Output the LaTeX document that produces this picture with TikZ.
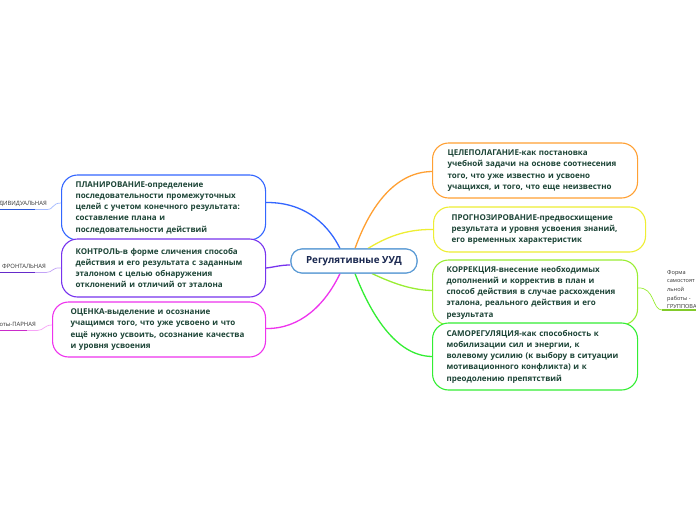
\documentclass[tikz,border=0pt]{standalone}
\usepackage{fontspec}
\setmainfont{Open Sans}
\usetikzlibrary{calc}
\definecolor{cblue}{HTML}{3366FF}
\definecolor{cpurple}{HTML}{7733EE}
\definecolor{cmagenta}{HTML}{EE33EE}
\definecolor{corange}{HTML}{FFA033}
\definecolor{cyellow}{HTML}{EEEE33}
\definecolor{cygreen}{HTML}{99EE33}
\definecolor{cgreen}{HTML}{33EE33}
\definecolor{ccentral}{HTML}{5B9BD5}
\definecolor{ctext}{HTML}{1C4436}
\definecolor{cnavy}{HTML}{1A2850}
\definecolor{cleaf}{HTML}{333333}
\tikzset{
  topic/.style={draw, line width=1.1pt, rounded corners=16pt, fill=white,
    align=left, inner ysep=0pt, anchor=west, text=ctext,
    font=\fontsize{8}{11.2}\selectfont\bfseries},
  central/.style={draw=ccentral, line width=1.1pt, rounded corners=11pt, fill=white,
    minimum width=126pt, minimum height=24pt, inner sep=0pt, text=cnavy,
    font=\fontsize{9.8}{11}\selectfont\bfseries},
  link/.style={line width=1.3pt},
  leaf/.style={text=cleaf, font=\fontsize{5.9}{8.5}\selectfont, inner sep=0pt},
  uline/.style={line width=1.6pt},
  thin/.style={line width=0.7pt}
}
\begin{document}
\begin{tikzpicture}[x=1pt,y=-1pt]
\useasboundingbox (0,0) rectangle (696,520);
\fill[white] (0,0) rectangle (696,520);

% central node
\node[central] (c) at (354,261) {Регулятивные УУД};

% topic nodes
\node[topic, draw=cblue, text width=176pt, inner xsep=14pt, minimum height=65pt] (plan) at (61,207.5)
  {ПЛАНИРОВАНИЕ-определение\\последовательности промежуточных\\целей с учетом конечного результата:\\составление плана и\\последовательности действий};
\node[topic, draw=cpurple, text width=176pt, inner xsep=14pt, minimum height=58pt] (kontr) at (61,268)
  {КОНТРОЛЬ-в форме сличения способа\\действия и его результата с заданным\\эталоном с целью обнаружения\\отклонений и отличий от эталона};
\node[topic, draw=cmagenta, text width=177pt, inner xsep=18pt, minimum height=55pt] (ocen) at (52,329.5)
  {ОЦЕНКА-выделение и осознание\\учащимся того, что уже усвоено и что\\ещё нужно усвоить, осознание качества\\и уровня усвоения};
\node[topic, draw=corange, text width=175pt, inner xsep=15pt, minimum height=55pt] (cel) at (432,170.5)
  {ЦЕЛЕПОЛАГАНИЕ-как постановка\\учебной задачи на основе соотнесения\\того, что уже известно и усвоено\\учащихся, и того, что еще неизвестно};
\node[topic, draw=cyellow, text width=176pt, inner xsep=18pt, minimum height=45pt] (prog) at (433,229.5)
  {ПРОГНОЗИРОВАНИЕ-предвосхищение\\результата и уровня усвоения знаний,\\его временных характеристик};
\node[topic, draw=cygreen, text width=177pt, inner xsep=14pt, minimum height=65pt] (korr) at (432,292.5)
  {КОРРЕКЦИЯ-внесение необходимых\\дополнений и корректив в план и\\способ действия в случае расхождения\\эталона, реального действия и его\\результата};
\node[topic, draw=cgreen, text width=177pt, inner xsep=14pt, minimum height=67pt] (samo) at (432,356.5)
  {САМОРЕГУЛЯЦИЯ-как способность к\\мобилизации сил и энергии, к\\волевому усилию (к выбору в ситуации\\мотивационного конфликта) и к\\преодолению препятствий};

% connectors from central node
\draw[link, cblue] ([xshift=-14pt]c.north) .. controls (330,228) and (308,202) .. ([yshift=5pt]plan.east);
\draw[link, corange] ([xshift=1pt]c.north) .. controls (368,212) and (392,172) .. ([yshift=-1pt]cel.west);
\draw[link, cyellow] ([xshift=14pt]c.north) .. controls (385,238) and (405,229) .. (prog.west);
\draw[link, cygreen] ([xshift=18pt]c.south) .. controls (390,282) and (410,290) .. ([yshift=2pt]korr.west);
\draw[link, cgreen] ([xshift=1pt]c.south) .. controls (370,312) and (395,356) .. (samo.west);
\draw[link, cmagenta] ([xshift=-14pt]c.south) .. controls (325,305) and (300,329) .. ([yshift=1pt]ocen.east);
\draw[link, cpurple] ([yshift=-4pt]c.west) .. controls (280,265) and (275,267) .. (kontr.east);

% redraw central node on top of connectors
\node[central] at (c) {Регулятивные УУД};

% left leaves
\node[leaf, anchor=base east] (l1) at (47,205) {ДИВИДУАЛЬНАЯ};
\coordinate (l1a) at (0,209.5);
\coordinate (l1b) at (35,209.5);
\draw[uline, cblue!85!black] (l1a) -- (l1b);
\draw[thin, cblue!45] (l1b) -- (47,209.5) .. controls (54,209.5) and (52,203) .. ([yshift=4.5pt]plan.west);

\node[leaf, anchor=base east] (l2) at (46,268) {ФРОНТАЛЬНАЯ};
\coordinate (l2a) at (0,272.5);
\coordinate (l2b) at (35,272.5);
\draw[uline, cpurple!85!black] (l2a) -- (l2b);
\draw[thin, cpurple!45] (l2b) -- (46,272.5) .. controls (53,272.5) and (52,267) .. (kontr.west);

\node[leaf, anchor=base east] (l3) at (36,326) {оты-ПАРНАЯ};
\coordinate (l3a) at (0,330.5);
\coordinate (l3b) at (27,330.5);
\draw[uline, cmagenta!85!black] (l3a) -- (l3b);
\draw[thin, cmagenta!45] (l3b) -- (37,330.5) .. controls (44,330.5) and (44,325) .. ([yshift=4.5pt]ocen.west);

% right leaf
\node[leaf, anchor=north west, align=left, font=\fontsize{5.6}{8.6}\selectfont] (r1) at (667,270)
  {Форма\\самостоят\\льной\\работы -\\ГРУППОВА};
\coordinate (r1a) at (662,310);
\coordinate (r1b) at (696,310);
\draw[uline, cygreen!85!black] (r1a) -- (r1b);
\draw[thin, cygreen] ([yshift=4.5pt]korr.east) .. controls (655,287) and (652,310) .. (r1a);
\end{tikzpicture}
\end{document}
